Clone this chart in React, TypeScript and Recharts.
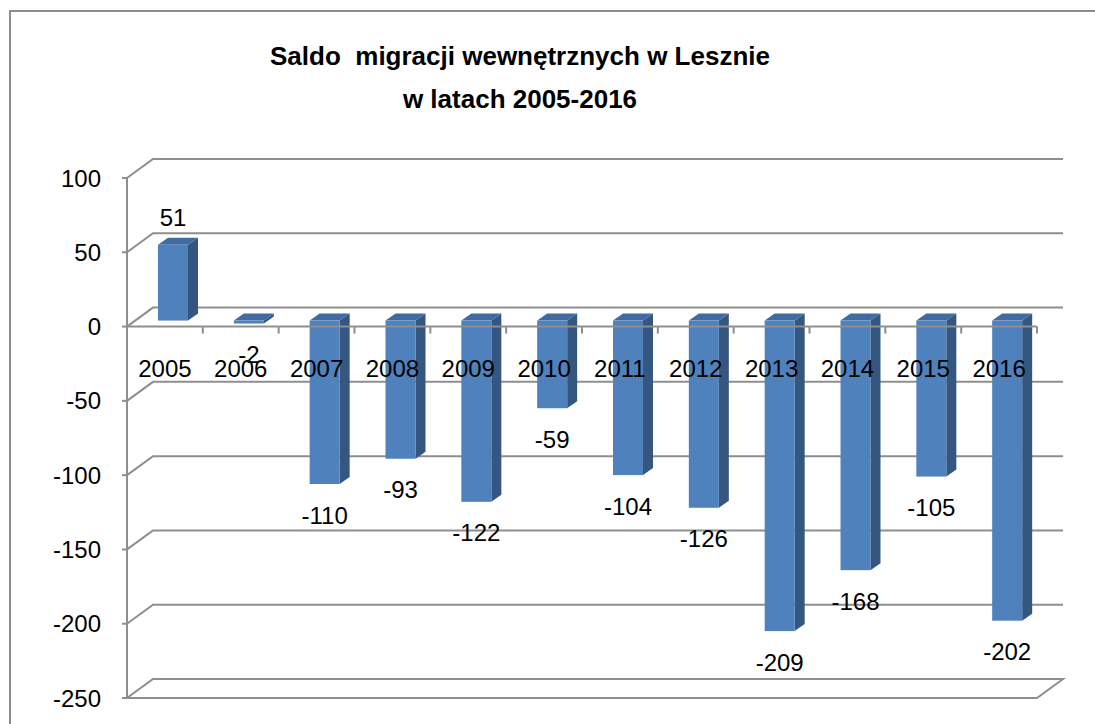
import React from 'react';
import { BarChart, Bar, XAxis, YAxis, CartesianGrid, LabelList } from 'recharts';

// ---- data ----
const years = ['2005', '2006', '2007', '2008', '2009', '2010', '2011', '2012', '2013', '2014', '2015', '2016'];
const saldo = [51, -2, -110, -93, -122, -59, -104, -126, -209, -168, -105, -202];
const yTicks = [-250, -200, -150, -100, -50, 0, 50, 100];
const titleLines = ['Saldo  migracji wewnętrznych w Lesznie', 'w latach 2005-2016'];

const data = years.map((year, i) => ({ year, value: saldo[i] }));

// ---- layout ----
const W = 1095;
const H = 724;
const M = { top: 178, right: 58, bottom: 25, left: 0 };
const Y_AXIS_W = 127;
const X_AXIS_H = 1;
const PLOT_TOP = M.top;
const PLOT_H = H - M.top - M.bottom - X_AXIS_H;
const PLOT_W = W - M.left - M.right - Y_AXIS_W;
const Y_MIN = -250;
const Y_MAX = 100;
const ZERO_Y = PLOT_TOP + (Y_MAX / (Y_MAX - Y_MIN)) * PLOT_H;
const BAND = PLOT_W / years.length;

const DX = 26;
const DY = -19;
const BDX = 10;
const BDY = -7;
const BSX = 8;
const BSY = -6;

const GRID = '#8e8e8e';
const FONT = '"Liberation Sans", Arial, sans-serif';
const FRONT = '#4F81BD';
const SIDE = '#34567F';
const TOPC = '#3F6BA0';

const wallLine = (props: any) => {
  const { x1, y1, x2, key } = props;
  const bottom = PLOT_TOP + PLOT_H;
  let d = `M${x1},${y1}L${x1 + DX},${y1 + DY}L${x2 + DX},${y1 + DY}`;
  if (Math.abs(y1 - bottom) < 1.5) {
    d += `L${x2},${y1}L${x1},${y1}`;
  }
  return <path key={key} d={d} fill="none" stroke={GRID} strokeWidth={2} />;
};

const Bar3D = (props: any) => {
  const { x, y, width, height } = props;
  if (x == null || y == null) return null;
  const top = Math.min(y, y + height) + BSY;
  const bottom = Math.max(y, y + height) + BSY;
  const l = x + BSX;
  const r = l + width;
  return (
    <g>
      <polygon points={`${r},${top} ${r + BDX},${top + BDY} ${r + BDX},${bottom + BDY} ${r},${bottom}`} fill={SIDE} />
      <polygon points={`${l},${top} ${l + BDX},${top + BDY} ${r + BDX},${top + BDY} ${r},${top}`} fill={TOPC} />
      <rect x={l} y={top} width={width} height={Math.max(bottom - top, 0.5)} fill={FRONT} />
    </g>
  );
};

const renderLabel = (props: any) => {
  const vb = props.viewBox && props.viewBox.x != null ? props.viewBox : props;
  const { x, y, width, height } = vb;
  const value = props.value;
  const top = Math.min(y, y + height) + BSY;
  const bottom = Math.max(y, y + height) + BSY;
  const cx = x + width / 2 + BSX;
  const cy = value >= 0 ? top - 27 : bottom + 31;
  return (
    <text x={cx} y={cy} textAnchor="middle" dominantBaseline="central" fill="#000" fontSize={24} fontFamily={FONT}>
      {value}
    </text>
  );
};

const CatTick = (props: any) => {
  const { x, payload, index } = props;
  const half = BAND / 2;
  return (
    <g>
      <line x1={x - half} y1={ZERO_Y} x2={x + half} y2={ZERO_Y} stroke={GRID} strokeWidth={2} />
      <line x1={x + half} y1={ZERO_Y} x2={x + half} y2={ZERO_Y + 7} stroke={GRID} strokeWidth={2} />
      <text x={x} y={ZERO_Y + 50} textAnchor="middle" fill="#000" fontSize={24} fontFamily={FONT}>
        {payload.value}
      </text>
    </g>
  );
};

export default function App() {
  return (
    <div style={{ position: 'absolute', left: 0, top: 0, width: W, height: H, overflow: 'hidden', background: '#fff' }}>
      <div
        style={{
          position: 'absolute',
          left: 9,
          top: 10,
          width: 1300,
          height: 1000,
          border: '2px solid #8c8c8c',
          boxSizing: 'border-box',
        }}
      />
      <div style={{ position: 'absolute', left: 0, top: 0 }}>
        <BarChart width={W} height={H} data={data} margin={M} barSize={30}>
          <CartesianGrid vertical={false} horizontal={wallLine} />
          <YAxis
            type="number"
            domain={[Y_MIN, Y_MAX]}
            ticks={yTicks}
            interval={0}
            width={Y_AXIS_W}
            tickSize={5}
            tickMargin={21}
            axisLine={{ stroke: GRID, strokeWidth: 2 }}
            tickLine={{ stroke: GRID, strokeWidth: 2 }}
            tick={{ fill: '#000', fontSize: 24, fontFamily: FONT }}
            allowDataOverflow
          />
          <Bar dataKey="value" shape={Bar3D} isAnimationActive={false}>
            <LabelList dataKey="value" content={renderLabel} />
          </Bar>
          <XAxis dataKey="year" height={X_AXIS_H} axisLine={false} tickLine={false} interval={0} tick={CatTick} />
        </BarChart>
      </div>
      <svg width={W} height={140} style={{ position: 'absolute', left: 0, top: 0, pointerEvents: 'none' }}>
        <text x={520} y={65} textAnchor="middle" fontSize={26} fontWeight="bold" fontFamily={FONT} fill="#000" style={{ whiteSpace: 'pre' }}>
          {titleLines[0]}
        </text>
        <text x={520} y={108} textAnchor="middle" fontSize={26} fontWeight="bold" fontFamily={FONT} fill="#000" style={{ whiteSpace: 'pre' }}>
          {titleLines[1]}
        </text>
      </svg>
    </div>
  );
}
